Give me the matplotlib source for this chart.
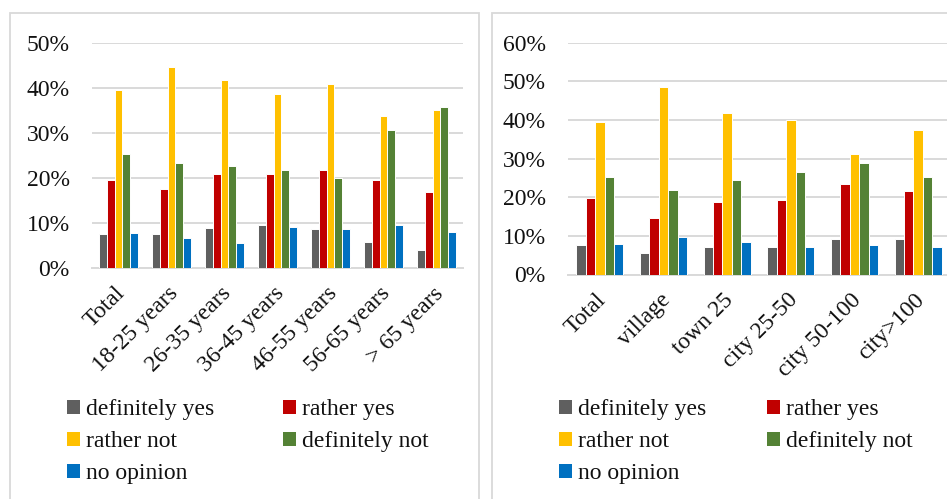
import matplotlib
matplotlib.use("Agg")
import matplotlib.pyplot as plt
from matplotlib.patches import Rectangle, Patch
from matplotlib.transforms import ScaledTranslation
import numpy as np

plt.rcParams['font.family'] = ['Liberation Serif', 'DejaVu Serif']

series = ["definitely yes", "rather yes", "rather not", "definitely not", "no opinion"]
colors = ["#5F5F5F", "#C00000", "#FFC000", "#548235", "#0070C0"]

age_cats = ["Total", "18-25 years", "26-35 years", "36-45 years", "46-55 years", "56-65 years", "> 65 years"]
age_def_yes = [7.5, 7.5, 8.9, 9.6, 8.6, 5.9, 4.0]
age_rather_yes = [19.6, 17.6, 21.0, 20.8, 21.7, 19.6, 16.9]
age_rather_not = [39.5, 44.6, 41.7, 38.6, 40.8, 33.8, 35.1]
age_def_not = [25.3, 23.3, 22.7, 21.8, 20.1, 30.6, 35.7]
age_no_op = [7.8, 6.8, 5.5, 9.1, 8.6, 9.7, 8.1]

place_cats = ["Total", "village", "town 25", "city 25-50", "city 50-100", "city>100"]
place_def_yes = [7.7, 5.6, 7.0, 7.2, 9.1, 9.1]
place_rather_yes = [19.7, 14.6, 18.7, 19.4, 23.5, 21.6]
place_rather_not = [39.6, 48.5, 41.7, 40.0, 31.2, 37.4]
place_def_not = [25.3, 22.0, 24.5, 26.6, 28.9, 25.2]
place_no_op = [7.9, 9.6, 8.4, 7.2, 7.7, 7.2]

W, H = 947, 499
fig = plt.figure(figsize=(W / 100, H / 100), dpi=100)
fig.patch.set_facecolor("white")

GRID = "#D9D9D9"
TXT = "#111111"
FS = 17


def px_axes(x0, x1, ytop, ybot):
    return fig.add_axes([x0 / W, 1 - ybot / H, (x1 - x0) / W, (ybot - ytop) / H])


def draw(ax, cats, data, ymax, step):
    n = len(cats)
    x = np.arange(n)
    group = 0.74
    bw = group / len(data)
    for i, (vals, c) in enumerate(zip(data, colors)):
        offs = -group / 2 + bw * (i + 0.5)
        ax.bar(x + offs, vals, width=bw, color=c, edgecolor="white", linewidth=0.7, zorder=3)
    ax.set_xlim(-0.5, n - 0.5)
    ax.set_ylim(0, ymax)
    ticks = np.arange(0, ymax + 0.1, step)
    ax.set_yticks(ticks)
    ax.set_yticklabels([f"{int(t)}%" for t in ticks], fontsize=FS, color=TXT)
    ax.yaxis.grid(True, color=GRID, linewidth=1.4, zorder=0)
    ax.set_axisbelow(True)
    for s in ["top", "right", "left"]:
        ax.spines[s].set_visible(False)
    ax.spines["bottom"].set_color(GRID)
    ax.spines["bottom"].set_linewidth(1.4)
    ax.tick_params(axis="y", length=0, pad=16)
    ax.tick_params(axis="x", length=0, pad=7)
    ax.set_xticks(x)
    labels = ax.set_xticklabels(cats, rotation=45, ha="right", va="top", rotation_mode="anchor",
                                fontsize=FS, color=TXT)
    off = ScaledTranslation(-4 / 100, -5 / 100, fig.dpi_scale_trans)
    for lab in labels:
        lab.set_transform(lab.get_transform() + off)


ax1 = px_axes(92, 463, 42.7, 268.3)
draw(ax1, age_cats, [age_def_yes, age_rather_yes, age_rather_not, age_def_not, age_no_op], 50, 10)

ax2 = px_axes(568, 950, 42.7, 274.5)
draw(ax2, place_cats, [place_def_yes, place_rather_yes, place_rather_not, place_def_not, place_no_op], 60, 10)

handles = [Patch(facecolor=c, edgecolor="none") for c in colors]
order = [0, 2, 4, 1, 3]
h_ord = [handles[i] for i in order]
l_ord = [series[i] for i in order]


def add_legend(x, y, colsp):
    fig.legend(h_ord, l_ord, loc="upper left", bbox_to_anchor=(x / W, 1 - y / H),
               ncols=2, frameon=False, fontsize=FS, handlelength=0.55, handleheight=0.55,
               handletextpad=0.25, columnspacing=colsp, labelspacing=0.47,
               borderaxespad=0, borderpad=0, labelcolor=TXT)


add_legend(67, 399, 2.92)
add_legend(559, 399, 2.57)

# panel frames
fig.add_artist(Rectangle((10 / W, -0.1), (479 - 10) / W, 1.1 - 13 / H, transform=fig.transFigure,
                         fill=False, edgecolor=GRID, linewidth=1.3))
fig.add_artist(Rectangle((492 / W, -0.1), 0.6, 1.1 - 13 / H, transform=fig.transFigure,
                         fill=False, edgecolor=GRID, linewidth=1.3))

fig.savefig("out.png", dpi=100, facecolor="white")
